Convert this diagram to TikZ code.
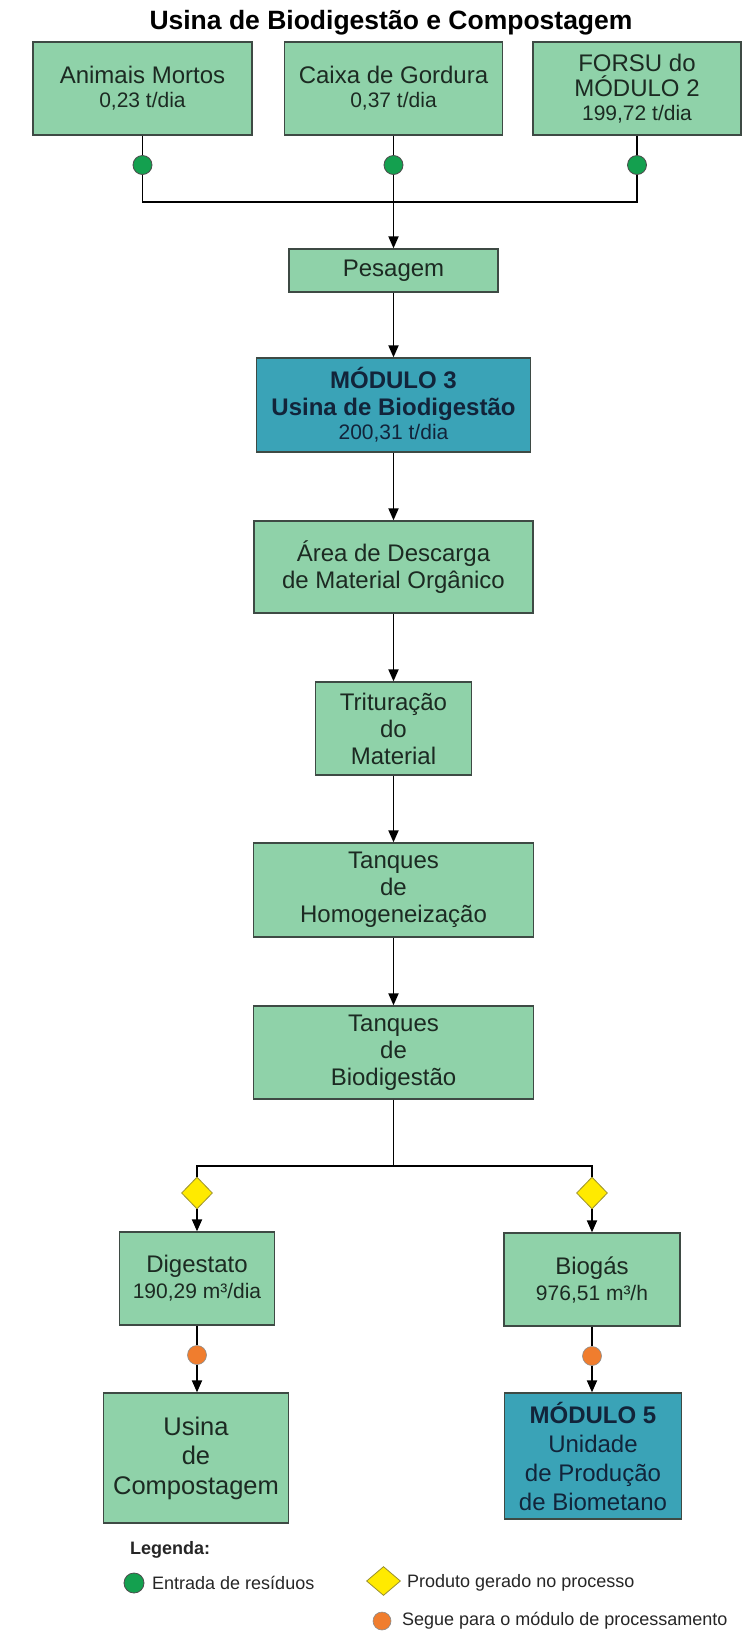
\documentclass[tikz,border=0pt]{standalone}
\usepackage{fontspec}
\setmainfont{Liberation Sans}
\usetikzlibrary{arrows.meta,shapes.geometric}
\definecolor{boxgreen}{HTML}{8FD2A9}
\definecolor{boxteal}{HTML}{3AA3B7}
\definecolor{bordergray}{HTML}{3E4A44}
\definecolor{txtgreen}{HTML}{1C2A22}
\definecolor{txtblue}{HTML}{12243A}
\definecolor{dotgreen}{HTML}{14A04F}
\definecolor{dotorange}{HTML}{F07D2E}
\definecolor{dmdyellow}{HTML}{FFEA00}
\definecolor{dmdedge}{HTML}{9A9030}
\newcommand{\bigtxt}{\fontsize{24}{27}\selectfont}
\newcommand{\subtxt}{\fontsize{21}{24}\selectfont}
\newcommand{\legtxtfont}{\fontsize{18}{20}\selectfont}
\begin{document}
\begin{tikzpicture}[x=1pt,y=-1pt,
  gbox/.style={draw=bordergray, line width=1.3pt, fill=boxgreen, text=txtgreen, align=center, inner sep=0pt, font=\bigtxt},
  tbox/.style={gbox, fill=boxteal, text=txtblue},
  conn/.style={line width=1.8pt, draw=black},
  arr/.style={conn, -{Triangle[length=12pt,width=10pt]}},
  gdot/.style={circle, draw=black!70, line width=0.8pt, fill=dotgreen, minimum size=19pt, inner sep=0pt},
  odot/.style={circle, draw=black!45, line width=0.6pt, fill=dotorange, minimum size=19pt, inner sep=0pt},
  ydmd/.style={diamond, draw=dmdedge, line width=0.8pt, fill=dmdyellow, minimum width=31pt, minimum height=32pt, inner sep=0pt},
  legtxt/.style={anchor=west, inner sep=0pt, font=\legtxtfont, text=black!85}
]
\useasboundingbox (0,0) rectangle (742,1631);
\fill[white] (0,0) rectangle (742,1631);

% title
\node[font=\fontsize{26.5}{30}\selectfont\bfseries, text=black, inner sep=0pt] (title) at (391,23) {Usina de Biodigestão e Compostagem};

% top inputs
\node[gbox, minimum width=219pt, minimum height=93pt] (animais) at (142.5,88.5) {Animais Mortos\\[-3pt]{\subtxt 0,23 t/dia}};
\node[gbox, minimum width=218pt, minimum height=93pt] (caixa) at (393.5,88.5) {Caixa de Gordura\\[-3pt]{\subtxt 0,37 t/dia}};
\node[gbox, minimum width=208pt, minimum height=93pt] (forsu) at (637,88.5) {FORSU do\\[-2pt]MÓDULO 2\\[-3pt]{\subtxt 199,72 t/dia}};

\node[gdot] (g1) at (142.5,165) {};
\node[gdot] (g2) at (393.5,165) {};
\node[gdot] (g3) at (637,165) {};
\coordinate (jtop) at (393.5,202);

% main column
\node[gbox, minimum width=209pt, minimum height=43pt] (pesagem) at (393.5,270.5) {Pesagem};
\node[tbox, minimum width=274pt, minimum height=94pt] (mod3) at (393.5,405) {\bfseries MÓDULO 3\\{\bfseries Usina de Biodigestão}\\[-3pt]{\subtxt 200,31 t/dia}};
\node[gbox, minimum width=279pt, minimum height=92pt] (area) at (393.5,567) {Área de Descarga\\de Material Orgânico};
\node[gbox, minimum width=156pt, minimum height=93pt] (trit) at (393.5,728.5) {Trituração\\do\\Material};
\node[gbox, minimum width=280pt, minimum height=94pt] (homog) at (393.5,890) {Tanques\\de\\Homogeneização};
\node[gbox, minimum width=280pt, minimum height=93pt] (biodig) at (393.5,1052.5) {Tanques\\de\\Biodigestão};
\coordinate (jbot) at (393.5,1166);

% branches
\node[ydmd] (dl) at (197,1193) {};
\node[ydmd] (dr) at (592,1193) {};
\node[gbox, minimum width=155pt, minimum height=93pt] (digest) at (197,1278.5) {Digestato\\[-1pt]{\subtxt 190,29 m³/dia}};
\node[gbox, minimum width=176pt, minimum height=93pt] (biogas) at (592,1279.5) {Biogás\\[-1pt]{\subtxt 976,51 m³/h}};
\node[odot] (o1) at (197,1355) {};
\node[odot] (o2) at (592,1356) {};
\node[gbox, minimum width=185pt, minimum height=130pt, font=\fontsize{25.5}{29.5}\selectfont] (compost) at (196,1458) {Usina\\de\\Compostagem};
\node[tbox, minimum width=177pt, minimum height=126pt, font=\fontsize{24}{29}\selectfont] (mod5) at (593,1456) {\bfseries MÓDULO 5\\Unidade\\de Produção\\de Biometano};

% connectors top
\draw[conn] (animais.south) -- (g1);
\draw[conn] (caixa.south) -- (g2);
\draw[conn] (forsu.south) -- (g3);
\draw[conn] (g1) |- (jtop);
\draw[conn] (g3) |- (jtop);
\draw[arr] (g2) -- (pesagem);
\draw[arr] (pesagem) -- (mod3);
\draw[arr] (mod3) -- (area);
\draw[arr] (area) -- (trit);
\draw[arr] (trit) -- (homog);
\draw[arr] (homog) -- (biodig);

% connectors bottom
\draw[conn] (biodig.south) -- (jbot);
\draw[conn] (dl.north) |- (jbot);
\draw[conn] (dr.north) |- (jbot);
\draw[arr] (dl) -- (digest);
\draw[arr] (dr) -- (biogas);
\draw[conn] (digest) -- (o1);
\draw[conn] (biogas) -- (o2);
\draw[arr] (o1) -- (o1 |- compost.north);
\draw[arr] (o2) -- (o2 |- mod5.north);

% legend
\node[anchor=west, inner sep=0pt, font=\legtxtfont\bfseries, text=black!85] (leg) at (130,1550) {Legenda:};
\node[gdot, minimum size=20pt] (lg) at (134,1583) {};
\node[legtxt] (lgt) at (152,1583) {Entrada de resíduos};
\node[ydmd, minimum width=34pt, minimum height=29pt] (ly) at (383.5,1581) {};
\node[legtxt] (lyt) at (407,1583) {Produto gerado no processo};
\node[odot, minimum size=18pt] (lo) at (382,1621) {};
\node[legtxt] (lot) at (402,1621) {Segue para o módulo de processamento};
\end{tikzpicture}
\end{document}
